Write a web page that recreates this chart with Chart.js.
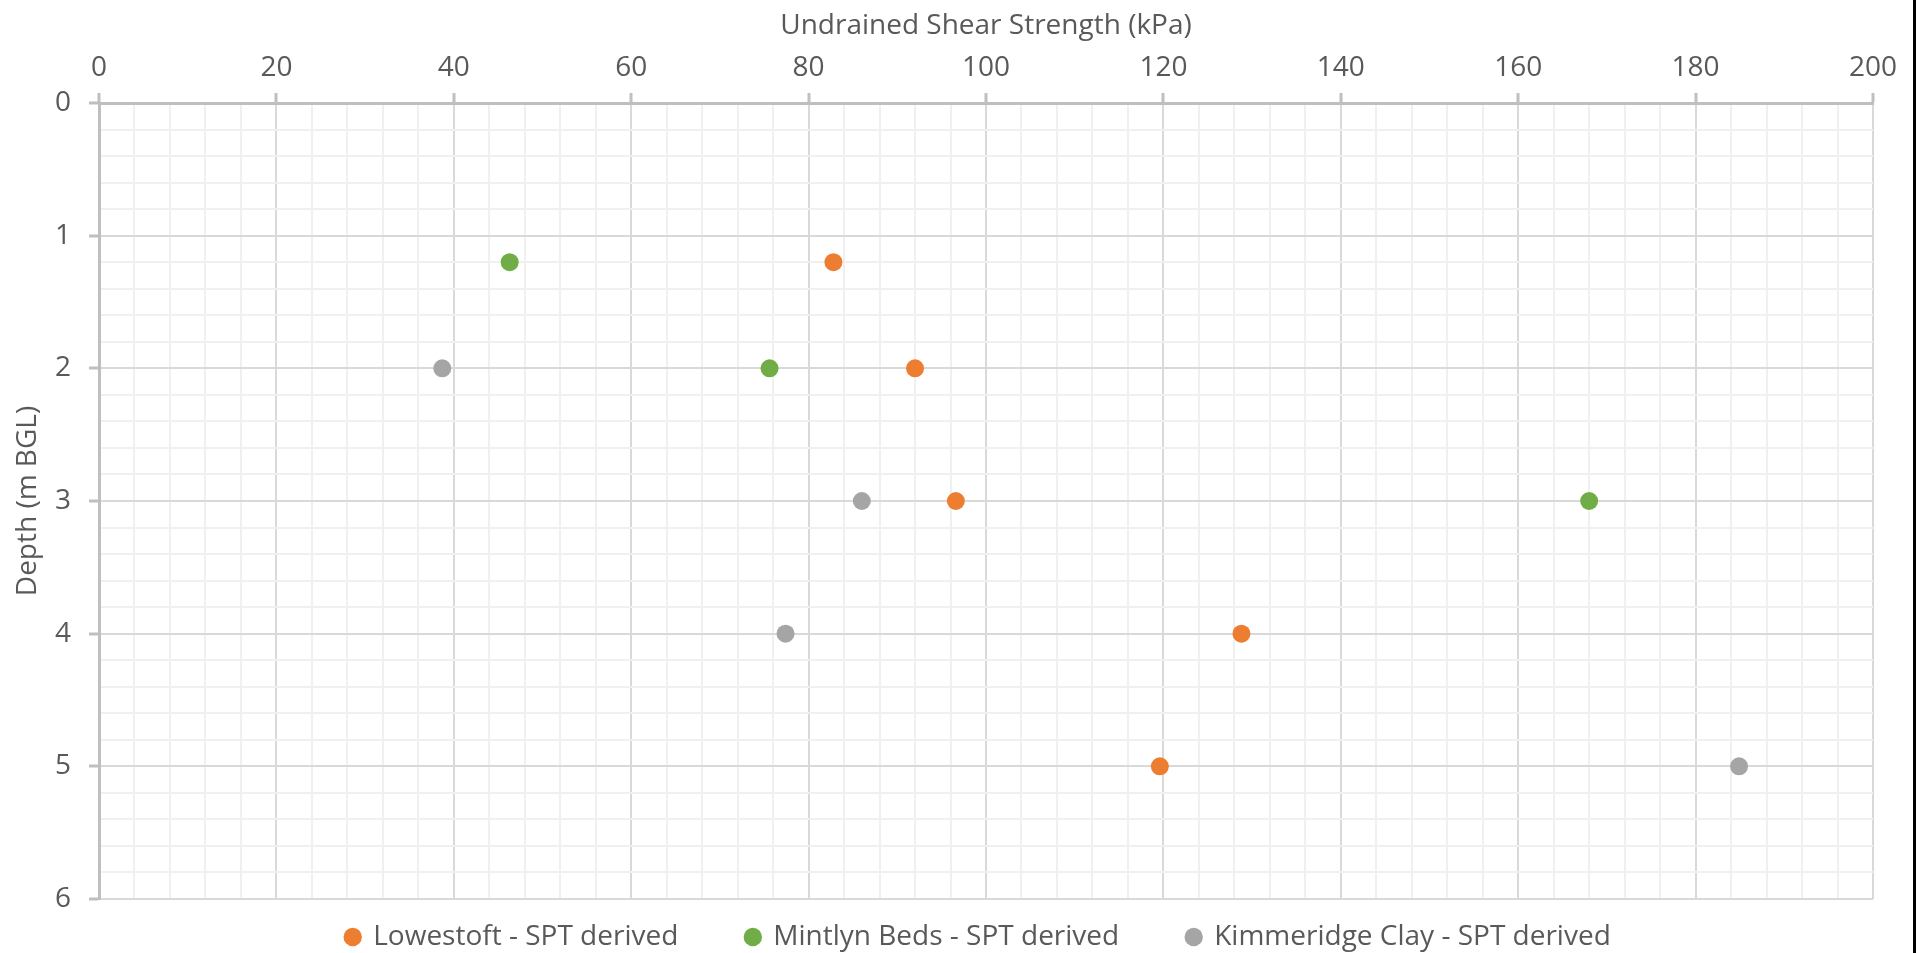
<!DOCTYPE html>
<html>
<head>
<meta charset="utf-8">
<script src="https://cdn.jsdelivr.net/npm/chart.js@4.4.1/dist/chart.umd.min.js"></script>
<style>
  html, body { margin: 0; padding: 0; background: #ffffff; }
  #wrap { position: relative; width: 1921px; height: 953px; overflow: hidden; }
  #edge { position: absolute; left: 1913px; top: 0; width: 3px; height: 953px; background: #000000; }
</style>
</head>
<body>
<div id="wrap">
  <canvas id="chart" width="1921" height="953"></canvas>
  <div id="edge"></div>
</div>
<script>
// Undrained shear strength (kPa) against depth (m BGL), SPT derived
const seriesNames = [
  'Lowestoft - SPT derived',
  'Mintlyn Beds - SPT derived',
  'Kimmeridge Clay - SPT derived'
];
const lowestoftStrength = [82.8, 92.0, 96.6, 128.8, 119.6];
const lowestoftDepth    = [1.2, 2, 3, 4, 5];
const mintlynStrength   = [46.3, 75.6, 168.0];
const mintlynDepth      = [1.2, 2, 3];
const kimmeridgeStrength = [38.7, 86.0, 77.4, 184.9];
const kimmeridgeDepth    = [2, 3, 4, 5];
const seriesColors = ['#ED7D31', '#70AD47', '#A5A5A5'];

const strengthRange = [0, 200];
const strengthMajor = 20;
const strengthMinor = 4;
const depthRange = [0, 6];
const depthMajor = 1;
const depthMinor = 0.2;

const toPoints = (xs, ys) => xs.map((x, i) => ({ x: x, y: ys[i] }));

const FONT = '"Open Sans", "Liberation Sans", sans-serif';
const FONT_SIZE = 28;
const TEXT = '#595959';
const MAJOR_GRID = '#d9d9d9';
const MINOR_GRID = '#f0f0f0';
const AXIS_LINE = '#bfbfbf';

// legend strip below the plot: fixed height, items spread wide and nudged into place
const LEGEND_HEIGHT = 54;
const LEGEND_SHIFT = { x: 42, y: -44 };

const isMajor = (v, step) => Math.abs(v / step - Math.round(v / step)) < 1e-6;

function makeSet(label, xs, ys, color) {
  return {
    label: label,
    data: toPoints(xs, ys),
    backgroundColor: color,
    borderColor: color,
    borderWidth: 0,
    pointRadius: 9,
    pointHoverRadius: 9,
    pointStyle: 'circle',
    showLine: false
  };
}

const legendPlacement = {
  id: 'legendPlacement',
  afterInit(chart) {
    const lg = chart.legend;
    if (!lg) return;
    const fit = lg.fit.bind(lg);
    lg.fit = function () { fit(); this.height = LEGEND_HEIGHT; };
    const draw = lg.draw.bind(lg);
    lg.draw = function () {
      const box = { left: this.left, right: this.right, top: this.top, bottom: this.bottom };
      this.left += LEGEND_SHIFT.x;
      this.right += LEGEND_SHIFT.x;
      this.top += LEGEND_SHIFT.y;
      this.bottom = chart.height;
      draw();
      Object.assign(this, box);
    };
  }
};

new Chart(document.getElementById('chart'), {
  type: 'scatter',
  data: {
    datasets: [
      makeSet(seriesNames[0], lowestoftStrength, lowestoftDepth, seriesColors[0]),
      makeSet(seriesNames[1], mintlynStrength, mintlynDepth, seriesColors[1]),
      makeSet(seriesNames[2], kimmeridgeStrength, kimmeridgeDepth, seriesColors[2])
    ]
  },
  plugins: [legendPlacement],
  options: {
    responsive: false,
    animation: false,
    layout: { padding: { left: 0, top: 0, right: 48, bottom: 0 } },
    plugins: {
      tooltip: { enabled: false },
      legend: {
        position: 'bottom',
        labels: {
          usePointStyle: true,
          boxWidth: 13,
          boxHeight: 13,
          padding: 68,
          color: TEXT,
          font: { family: FONT, size: FONT_SIZE }
        }
      }
    },
    scales: {
      x: {
        type: 'linear',
        position: 'top',
        min: strengthRange[0],
        max: strengthRange[1],
        afterFit: (s) => { s.height = 103; },
        title: {
          display: true,
          text: 'Undrained Shear Strength (kPa)',
          color: TEXT,
          font: { family: FONT, size: FONT_SIZE },
          padding: { top: 9, bottom: 0 }
        },
        ticks: {
          stepSize: strengthMinor,
          autoSkip: false,
          maxRotation: 0,
          padding: 8,
          color: TEXT,
          font: { family: FONT, size: FONT_SIZE },
          callback: (v) => isMajor(v, strengthMajor) ? String(Math.round(v)) : ''
        },
        grid: {
          color: (c) => isMajor(c.tick.value, strengthMajor) ? MAJOR_GRID : MINOR_GRID,
          lineWidth: 2,
          tickLength: 10,
          tickWidth: 3,
          tickColor: (c) => isMajor(c.tick.value, strengthMajor) ? AXIS_LINE : 'rgba(0,0,0,0)'
        },
        border: { display: true, color: AXIS_LINE, width: 3 }
      },
      y: {
        type: 'linear',
        reverse: true,
        min: depthRange[0],
        max: depthRange[1],
        afterFit: (s) => { s.width = 99; },
        title: {
          display: true,
          text: 'Depth (m BGL)',
          color: TEXT,
          font: { family: FONT, size: FONT_SIZE },
          padding: { top: 11, bottom: 0 }
        },
        ticks: {
          stepSize: depthMinor,
          autoSkip: false,
          padding: 18,
          color: TEXT,
          font: { family: FONT, size: FONT_SIZE },
          callback: (v) => isMajor(v, depthMajor) ? String(Math.round(v)) : ''
        },
        grid: {
          color: (c) => isMajor(c.tick.value, depthMajor) ? MAJOR_GRID : MINOR_GRID,
          lineWidth: 2,
          tickLength: 10,
          tickWidth: 3,
          tickColor: (c) => isMajor(c.tick.value, depthMajor) ? AXIS_LINE : 'rgba(0,0,0,0)'
        },
        border: { display: true, color: AXIS_LINE, width: 3 }
      }
    }
  }
});
</script>
</body>
</html>
